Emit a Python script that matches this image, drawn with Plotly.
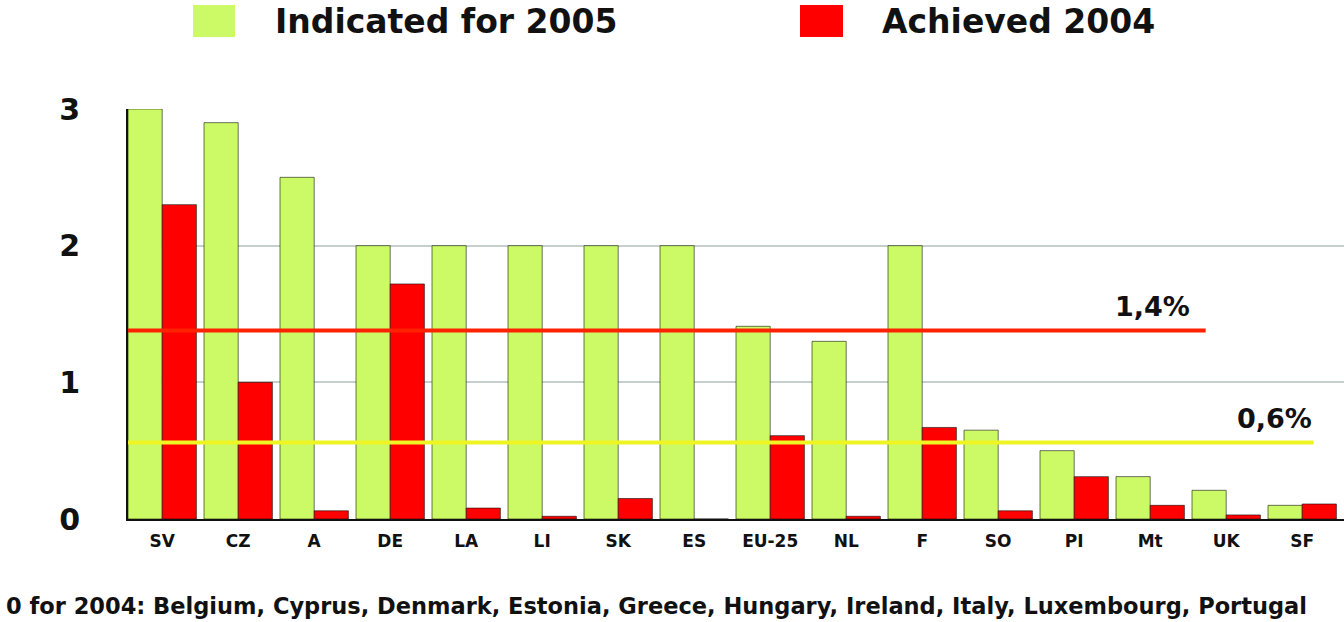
import plotly.graph_objects as go

countries = ["SV", "CZ", "A", "DE", "LA", "LI", "SK", "ES", "EU-25", "NL", "F", "SO", "PI", "Mt", "UK", "SF"]
indicated_2005 = [3.0, 2.9, 2.5, 2.0, 2.0, 2.0, 2.0, 2.0, 1.41, 1.3, 2.0, 0.65, 0.5, 0.31, 0.21, 0.1]
achieved_2004 = [2.3, 1.0, 0.06, 1.72, 0.08, 0.02, 0.15, 0.0, 0.61, 0.02, 0.67, 0.06, 0.31, 0.1, 0.03, 0.11]

eu_avg_2005 = 1.38   # red line, labelled 1,4%
eu_avg_2004 = 0.56   # yellow line, labelled 0,6%
ref_labels = ["1,4%", "0,6%"]

footnote = "0 for 2004: Belgium, Cyprus, Denmark, Estonia, Greece, Hungary, Ireland, Italy, Luxembourg, Portugal"

GREEN = "#CCFA66"
RED = "#FF0000"
FONT = "DejaVu Sans"

W, H = 1344, 622
ML, MR, MT, MB = 128, 0, 109, 103


def px(x, y):
    # pixel position -> paper coords
    return (x - ML) / (W - ML - MR), 1 - (y - MT) / (H - MT - MB)


fig = go.Figure()

fig.add_trace(
    go.Bar(
        x=countries,
        y=indicated_2005,
        name="Indicated for 2005",
        marker=dict(color=GREEN, line_width=1, line_color="rgba(0,0,0,0.55)"),
    )
)
fig.add_trace(
    go.Bar(
        x=countries,
        y=achieved_2004,
        name="Achieved 2004",
        marker=dict(color=RED, line_width=1, line_color="rgba(0,0,0,0.55)"),
    )
)

# reference lines, label sits just above the right end
for val, color, x_end, xshift, label in [
    (eu_avg_2005, "#FF2200", 13.73, -14, ref_labels[0]),
    (eu_avg_2004, "#EEF522", 15.15, 0, ref_labels[1]),
]:
    fig.add_shape(
        type="line", xref="x", yref="y",
        x0=-0.45, x1=x_end, y0=val, y1=val,
        line=dict(color=color, width=4),
    )
    fig.add_annotation(
        text=label, xref="x", yref="y", x=x_end, y=val,
        xanchor="right", yanchor="bottom", yshift=6, xshift=xshift,
        showarrow=False,
        font=dict(family=FONT, size=27, color="#111111", weight="bold"),
    )

# hand-made legend with big squares
for (x0, x1, tx), color, name in [
    ((193, 235, 273), GREEN, "Indicated for 2005"),
    ((800, 843, 880), RED, "Achieved 2004"),
]:
    ax0, ay0 = px(x0, 5)
    ax1, ay1 = px(x1, 37)
    fig.add_shape(
        type="rect", xref="paper", yref="paper",
        x0=ax0, x1=ax1, y0=ay0, y1=ay1,
        fillcolor=color, line_width=0,
    )
    tx_p, ty_p = px(tx, 21)
    fig.add_annotation(
        text=name, xref="paper", yref="paper", x=tx_p, y=ty_p,
        xanchor="left", yanchor="middle", showarrow=False,
        font=dict(family=FONT, size=33, color="#111111", weight="bold"),
    )

fx, fy = px(4, 606)
fig.add_annotation(
    text=footnote, xref="paper", yref="paper", x=fx, y=fy,
    xanchor="left", yanchor="middle", showarrow=False,
    font=dict(family=FONT, size=22.5, color="#111111", weight="bold"),
)

fig.update_layout(
    width=W,
    height=H,
    barmode="group",
    bargap=0.1,
    bargroupgap=0.0,
    showlegend=False,
    plot_bgcolor="white",
    paper_bgcolor="white",
    margin=dict(l=ML, r=MR, t=MT, b=MB),
    font=dict(family=FONT, color="#111111"),
)

fig.update_xaxes(
    range=[-0.45, 15.55],
    showgrid=False,
    showline=True,
    linecolor="#111111",
    linewidth=2,
    ticks="",
    ticklabelstandoff=6,
    tickfont=dict(size=17, family=FONT, weight="bold"),
)

fig.update_yaxes(
    range=[0, 3],
    tickvals=[0, 1, 2, 3],
    ticktext=["0", "1", "2", "3"],
    showgrid=True,
    gridcolor="#C5D0CE",
    gridwidth=2,
    zeroline=False,
    showline=True,
    linecolor="#111111",
    linewidth=2,
    ticks="",
    ticklabelstandoff=40,
    tickfont=dict(size=30, family=FONT, weight="bold"),
)

fig.write_html(
    "out.html",
    config={"displayModeBar": False},
    post_script="document.body.style.margin='0';",
)
